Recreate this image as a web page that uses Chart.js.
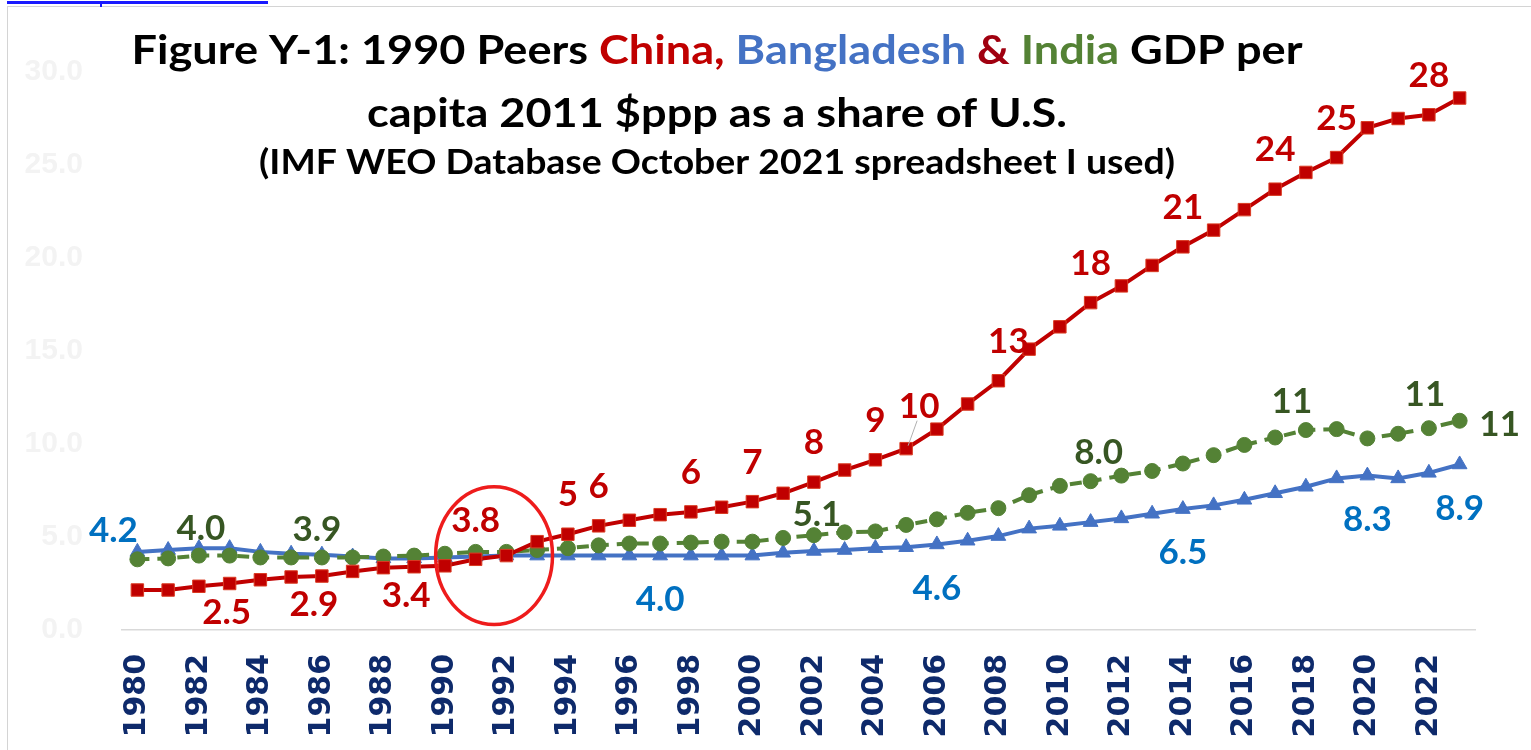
<!DOCTYPE html>
<html>
<head>
<meta charset="utf-8">
<title>GDP per capita as a share of U.S.</title>
<script src="https://cdn.jsdelivr.net/npm/chart.js@4.4.0/dist/chart.umd.min.js"></script>
<style>
  html, body { margin: 0; padding: 0; background: #ffffff; }
  #wrap { position: relative; width: 1531px; height: 750px; overflow: hidden; }
  #frame { position: absolute; left: 7px; top: 6px; right: 0; bottom: 0;
           border-left: 1.5px solid #d4d4d4; border-top: 1.5px solid #d4d4d4; pointer-events: none; }
  #link { position: absolute; left: 7px; top: 1px; width: 261px; height: 3px; background: #1a1aff; }
  #linkTick { position: absolute; left: 100px; top: 1px; width: 2px; height: 6px; background: #1a1aff; }
  canvas { position: absolute; left: 0; top: 0; }
</style>
</head>
<body>
<div id="wrap">
  <canvas id="chart" width="1531" height="750"></canvas>
  <div id="frame"></div>
  <div id="link"></div>
  <div id="linkTick"></div>
</div>
<script>
// Years on the category axis
const years = [1980, 1981, 1982, 1983, 1984, 1985, 1986, 1987, 1988, 1989,
               1990, 1991, 1992, 1993, 1994, 1995, 1996, 1997, 1998, 1999,
               2000, 2001, 2002, 2003, 2004, 2005, 2006, 2007, 2008, 2009,
               2010, 2011, 2012, 2013, 2014, 2015, 2016, 2017, 2018, 2019,
               2020, 2021, 2022, 2023];

// GDP per capita (2011 $ppp) as a percent of the U.S.
const china = [2.15, 2.15, 2.35, 2.5, 2.7, 2.85, 2.9, 3.15, 3.35, 3.4,
               3.45, 3.8, 4.0, 4.75, 5.15, 5.6, 5.9, 6.2, 6.35, 6.6,
               6.9, 7.35, 7.95, 8.6, 9.15, 9.75, 10.8, 12.15, 13.4, 15.1,
               16.3, 17.6, 18.5, 19.6, 20.6, 21.5, 22.6, 23.7, 24.6, 25.4,
               27.0, 27.5, 27.7, 28.6];

const bangladesh = [4.2, 4.3, 4.4, 4.4, 4.2, 4.1, 4.05, 3.95, 3.85, 3.85,
                    3.9, 3.95, 4.0, 4.0, 4.0, 4.0, 4.0, 4.0, 4.0, 4.0,
                    4.0, 4.15, 4.25, 4.3, 4.4, 4.45, 4.6, 4.8, 5.05, 5.45,
                    5.6, 5.8, 6.0, 6.25, 6.5, 6.7, 7.0, 7.35, 7.7, 8.15,
                    8.3, 8.15, 8.45, 8.9];

const india = [3.8, 3.85, 4.0, 4.0, 3.9, 3.9, 3.9, 3.9, 3.95, 4.0,
               4.1, 4.2, 4.2, 4.3, 4.4, 4.55, 4.65, 4.65, 4.7, 4.75,
               4.75, 4.95, 5.1, 5.25, 5.3, 5.65, 5.95, 6.3, 6.55, 7.25,
               7.75, 8.0, 8.3, 8.55, 8.95, 9.4, 9.95, 10.35, 10.75, 10.8,
               10.3, 10.55, 10.85, 11.25];

// Y axis ticks
const yTicks = [0, 5, 10, 15, 20, 25, 30];

// Years that carry a value label, per series
const chinaLabelYears      = [1983, 1986, 1989, 1991, 1994, 1995, 1998, 2000, 2002, 2004, 2005, 2008, 2011, 2014, 2017, 2019, 2022];
const bangladeshLabelYears = [1980, 1997, 2006, 2014, 2020, 2023];
const indiaLabelYears      = [1982, 1986, 2002, 2011, 2018, 2022, 2023];

// ---- styling ----
const COLORS = {
  china: '#C00000', chinaText: '#C00000',
  bangladesh: '#4472C4', bangladeshText: '#0070C0',
  india: '#548235', indiaText: '#375623',
  ampersand: '#A00010', axisText: '#0E2A6B'
};

// label placement: offset from the point (px) and number of decimals
function chinaPlacement(year) {
  const decimals = year < 1994 ? 1 : 0;
  if (year <= 1989) return { dx: year === 1986 ? -8 : (year === 1989 ? -8 : -3), dy: 29, decimals };
  if (year === 2005) return { dx: 13, dy: -42, decimals, leader: true };
  if (year === 2008) return { dx: 10, dy: -39, decimals };
  return { dx: 0, dy: -39, decimals };
}
function bangladeshPlacement(year) {
  if (year === 1980) return { dx: -24, dy: -21, decimals: 1 };
  return { dx: 0, dy: 44, decimals: 1 };
}
function indiaPlacement(year) {
  if (year === 2023) return { dx: 40, dy: 4, decimals: 0 };
  if (year === 2022) return { dx: -4, dy: -33, decimals: 0 };
  if (year === 2018) return { dx: -14, dy: -28, decimals: 0 };
  if (year === 2011) return { dx: 8, dy: -28, decimals: 1 };
  if (year === 2002) return { dx: 3, dy: -20, decimals: 1 };
  if (year === 1986) return { dx: -5, dy: -28, decimals: 1 };
  return { dx: 2, dy: -27, decimals: 1 };
}

const labelSpecs = [
  { dataset: 0, years: chinaLabelYears, color: COLORS.chinaText, place: chinaPlacement },
  { dataset: 1, years: bangladeshLabelYears, color: COLORS.bangladeshText, place: bangladeshPlacement },
  { dataset: 2, years: indiaLabelYears, color: COLORS.indiaText, place: indiaPlacement }
];

// Multi-coloured title drawn on the canvas (slightly widened lettering)
const TITLE_STRETCH = 1.1;
const titleLines = [
  { y: 64, size: 41, parts: [
      ['Figure Y-1: 1990 Peers ', '#000000'], ['China,', COLORS.china], [' ', '#000000'],
      ['Bangladesh', COLORS.bangladesh], [' ', '#000000'], ['&', COLORS.ampersand], [' ', '#000000'],
      ['India', COLORS.india], [' GDP per', '#000000']] },
  { y: 127, size: 41, parts: [['capita 2011 $ppp as a share of U.S.', '#000000']] },
  { y: 174, size: 34, parts: [['(IMF WEO Database October 2021 spreadsheet I used)', '#000000']] }
];

const titlePlugin = {
  id: 'multiTitle',
  afterDraw(chart) {
    const ctx = chart.ctx;
    const cx = 717;
    ctx.save();
    ctx.textBaseline = 'alphabetic';
    ctx.textAlign = 'left';
    titleLines.forEach(line => {
      ctx.font = 'bold ' + line.size + 'px Lato, "Open Sans", sans-serif';
      const total = line.parts.reduce((s, p) => s + ctx.measureText(p[0]).width, 0) * TITLE_STRETCH;
      ctx.save();
      ctx.translate(cx - total / 2, line.y);
      ctx.scale(TITLE_STRETCH, 1);
      let x = 0;
      line.parts.forEach(p => {
        ctx.fillStyle = p[1];
        ctx.fillText(p[0], x, 0);
        x += ctx.measureText(p[0]).width;
      });
      ctx.restore();
    });
    ctx.restore();
  }
};

// Red ellipse highlighting the early-1990s crossover (in data units)
const highlight = { centerIndex: 11.6, centerValue: 4.0, halfWidthYears: 1.9, halfHeightValue: 3.7 };
const ellipsePlugin = {
  id: 'crossoverEllipse',
  afterDatasetsDraw(chart) {
    const { ctx, scales: { x, y } } = chart;
    const cx = x.getPixelForValue(highlight.centerIndex);
    const cy = y.getPixelForValue(highlight.centerValue);
    const rx = Math.abs(x.getPixelForValue(highlight.centerIndex + highlight.halfWidthYears) - cx);
    const ry = Math.abs(y.getPixelForValue(highlight.centerValue + highlight.halfHeightValue) - cy);
    ctx.save();
    ctx.strokeStyle = '#EE1C1C';
    ctx.lineWidth = 3.5;
    ctx.beginPath();
    ctx.ellipse(cx, cy, rx, ry, 0, 0, Math.PI * 2);
    ctx.stroke();
    ctx.restore();
  }
};

// Value labels taken from the plotted data
const valueLabelPlugin = {
  id: 'valueLabels',
  afterDatasetsDraw(chart) {
    const ctx = chart.ctx;
    ctx.save();
    ctx.font = 'bold 35px Lato, "Open Sans", sans-serif';
    ctx.textAlign = 'center';
    ctx.textBaseline = 'middle';
    labelSpecs.forEach(spec => {
      const meta = chart.getDatasetMeta(spec.dataset);
      const values = chart.data.datasets[spec.dataset].data;
      spec.years.forEach(yr => {
        const i = years.indexOf(yr);
        const pt = meta.data[i];
        const p = spec.place(yr);
        const text = values[i].toFixed(p.decimals);
        const lx = pt.x + p.dx, ly = pt.y + p.dy;
        if (p.leader) {
          ctx.strokeStyle = '#b0b0b0';
          ctx.lineWidth = 1;
          ctx.beginPath();
          ctx.moveTo(lx - 2, ly + 14);
          ctx.lineTo(pt.x + 2, pt.y - 3);
          ctx.stroke();
        }
        ctx.fillStyle = spec.color;
        ctx.fillText(text, lx, ly);
      });
    });
    ctx.restore();
  }
};

const CHART_LEFT = 122, CHART_BOTTOM = 630, CANVAS_H = 750;

new Chart(document.getElementById('chart'), {
  type: 'line',
  data: {
    labels: years.map(String),
    datasets: [
      { label: 'China', data: china, borderColor: COLORS.china, backgroundColor: COLORS.china,
        borderWidth: 4, pointStyle: 'rect', pointRadius: 8.8, pointBorderColor: '#DA3A22',
        pointBorderWidth: 1, tension: 0, order: 0 },
      { label: 'Bangladesh', data: bangladesh, borderColor: COLORS.bangladesh, backgroundColor: COLORS.bangladesh,
        borderWidth: 4, pointStyle: 'triangle', pointRadius: 8.5, pointBorderColor: COLORS.bangladesh,
        pointBorderWidth: 1, tension: 0, order: 2 },
      { label: 'India', data: india, borderColor: COLORS.india, backgroundColor: COLORS.india,
        borderWidth: 4, borderDash: [12, 8], pointStyle: 'circle', pointRadius: 7.5,
        pointBorderColor: COLORS.india, pointBorderWidth: 1, tension: 0, order: 1 }
    ]
  },
  options: {
    responsive: false,
    animation: false,
    layout: { padding: { left: 0, right: 56, top: 72, bottom: 0 } },
    plugins: { legend: { display: false }, tooltip: { enabled: false }, title: { display: false } },
    scales: {
      x: {
        offset: true,
        grid: { display: false, drawTicks: false },
        border: { display: true, color: '#d9d9d9', width: 1.5 },
        ticks: {
          autoSkip: false, maxRotation: 90, minRotation: 90, padding: 24,
          color: COLORS.axisText,
          font: { family: '"DejaVu Sans"', weight: 'bold', size: 30 },
          callback: (v, i) => (years[i] % 2 === 0 ? String(years[i]) : null)
        },
        afterFit(scale) { scale.height = CANVAS_H - CHART_BOTTOM; }
      },
      y: {
        min: yTicks[0], max: yTicks[yTicks.length - 1],
        afterBuildTicks(scale) { scale.ticks = yTicks.map(v => ({ value: v })); },
        grid: { display: false, drawTicks: false },
        border: { display: false },
        ticks: {
          padding: 39, color: '#f3f3f3',
          font: { family: '"Liberation Sans"', weight: 'bold', size: 30 },
          callback: v => Number(v).toFixed(1)
        },
        afterFit(scale) { scale.width = CHART_LEFT; }
      }
    }
  },
  plugins: [ellipsePlugin, valueLabelPlugin, titlePlugin]
});
</script>
</body>
</html>
